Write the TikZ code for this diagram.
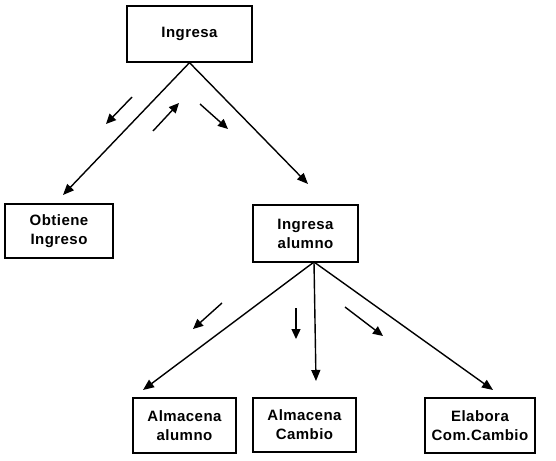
\documentclass[tikz,border=0pt]{standalone}
\usepackage{fontspec}
\setmainfont{Liberation Sans}[LetterSpace=3]
\usetikzlibrary{arrows.meta}
\begin{document}
\begin{tikzpicture}[x=1pt,y=-1pt,
  box/.style={draw,line width=1.3pt,rectangle,inner sep=0pt,align=center,
    font=\fontsize{15}{19}\selectfont\bfseries},
  link/.style={line width=1.4pt,-{Triangle[length=11pt,width=9pt]}},
  hint/.style={line width=1.4pt,-{Triangle[length=10pt,width=9pt]}}]
\useasboundingbox (0,0) rectangle (556,460);

% boxes
\node[box,minimum width=125pt,minimum height=56pt] (top) at (189.5,34) {Ingresa};
\node[box,minimum width=108pt,minimum height=54pt] (obt) at (59,231) {Obtiene\\Ingreso};
\node[box,minimum width=105pt,minimum height=57pt] (ia)  at (305.5,233.5) {Ingresa\\alumno};
\node[box,minimum width=103pt,minimum height=55pt] (aa)  at (184.5,425.5) {Almacena\\alumno};
\node[box,minimum width=103pt,minimum height=54pt] (ac)  at (304.5,425) {Almacena\\Cambio};
\node[box,minimum width=110pt,minimum height=55pt] (el)  at (480,425.5) {Elabora\\Com.Cambio};

% arrow ends above the boxes
\coordinate (eobt) at (63,195);
\coordinate (eia)  at (308,184);
\coordinate (eaa)  at (143,390);
\coordinate (eac)  at (316,381);
\coordinate (eel)  at (493,390);

% connectors
\draw[link] (top.south) -- (eobt);
\draw[link] (top.south) -- (eia);
\coordinate (ia0) at (314,262);
\draw[link] (ia0) -- (eaa);
\draw[link] (ia0) -- (eac);
\draw[link] (ia0) -- (eel);

% direction hints
\coordinate (h1a) at (132,97);  \coordinate (h1b) at (106,124);
\coordinate (h2a) at (153,131); \coordinate (h2b) at (179,103);
\coordinate (h3a) at (200,104); \coordinate (h3b) at (228,129);
\coordinate (h4a) at (222,303); \coordinate (h4b) at (193,329);
\coordinate (h5a) at (296,308); \coordinate (h5b) at (296,339);
\coordinate (h6a) at (345,307); \coordinate (h6b) at (383,336);
\draw[hint] (h1a) -- (h1b);
\draw[hint] (h2a) -- (h2b);
\draw[hint] (h3a) -- (h3b);
\draw[hint] (h4a) -- (h4b);
\draw[hint] (h5a) -- (h5b);
\draw[hint] (h6a) -- (h6b);
\end{tikzpicture}
\end{document}
